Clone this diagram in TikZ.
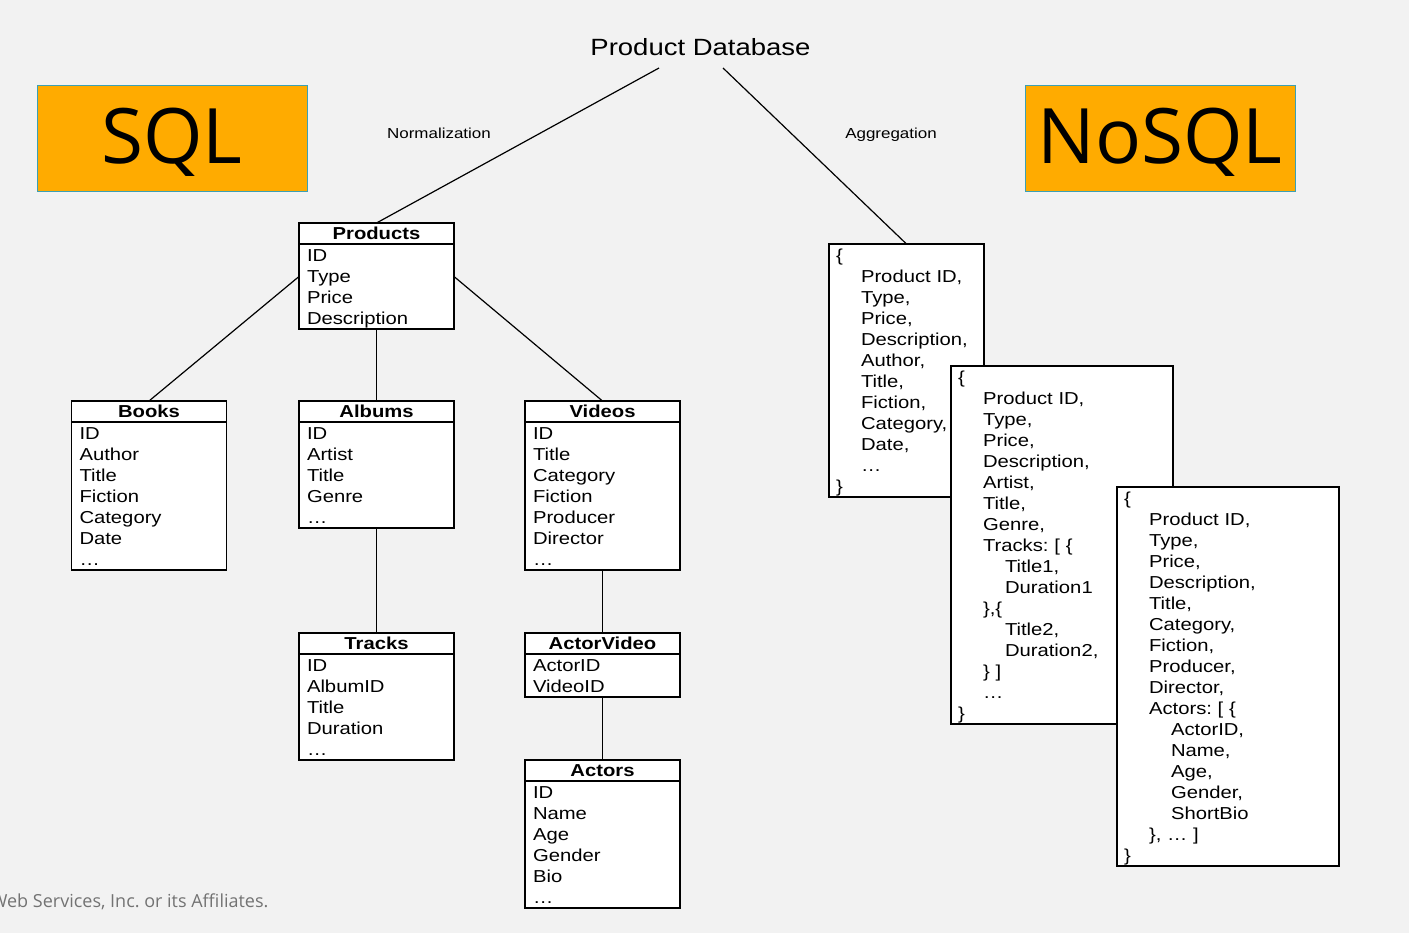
\documentclass[tikz,border=0pt]{standalone}
\usepackage{fontspec}
\setmainfont{Liberation Sans}[FakeStretch=1.17]
\newfontfamily\langfont{Open Sans}
\newfontfamily\footfont{Open Sans}
\usetikzlibrary{positioning}
\definecolor{pageGray}{RGB}{242,242,242}
\definecolor{sqlOrange}{RGB}{255,171,0}
\definecolor{sqlEdge}{RGB}{60,160,180}
\definecolor{footGray}{RGB}{115,115,115}
\newcommand{\rowstrut}{\rule[-4.3pt]{0pt}{21pt}}
\frenchspacing
\tikzset{
  tblhead/.style={draw, fill=white, line width=1.5pt, minimum width=155pt, minimum height=21pt,
    inner sep=0pt, outer sep=0pt, font=\fontsize{17.3}{21}\selectfont\bfseries},
  tblbody/.style={draw, fill=white, line width=1.5pt, text width=139pt, inner xsep=8pt, inner ysep=0.5pt,
    outer sep=0pt, align=left, font=\fontsize{17.3}{21}\selectfont,
    execute at begin node=\rowstrut, execute at end node=\rowstrut},
  docbox/.style={draw, fill=white, line width=1.3pt, anchor=north west, text width=#1, inner xsep=7pt,
    inner ysep=0.5pt, outer sep=0pt, align=left, font=\fontsize{17.3}{21}\selectfont,
    execute at begin node=\rowstrut, execute at end node=\rowstrut},
  langbox/.style={draw=sqlEdge, fill=sqlOrange, line width=0.8pt, minimum width=270pt, minimum height=106pt,
    inner sep=0pt, text depth=5pt, font=\langfont\fontsize{76.5}{80}\selectfont},
  edgelabel/.style={anchor=base, font=\fontsize{14.5}{17}\selectfont},
  link/.style={line width=1.2pt}
}
\newcommand{\ind}{\hspace*{25pt}}
\newcommand{\indd}{\hspace*{47pt}}

\begin{document}
\begin{tikzpicture}[x=1pt, y=-1pt]
  \fill[pageGray] (0,0) rectangle (1409,933);
  \clip (0,0) rectangle (1409,933);

  % title and the two approaches
  \node[font=\fontsize{23.5}{28}\selectfont] (db) at (700.5,47) {Product Database};
  \coordinate (normL) at (659,68);
  \coordinate (aggR) at (723,68);
  \node[langbox] (sql) at (172,138) {SQL};
  \node[langbox] (nosql) at (1160,138) {NoSQL};
  \node[edgelabel] (normlabel) at (439,138.5) {Normalization};
  \node[edgelabel] (agglabel) at (891,138.5) {Aggregation};

  % relational tables
  \node[tblhead] (products) at (376.5,233.5) {Products};
  \node[tblbody, below=0pt of products] (products-f) {ID\\Type\\Price\\Description};

  \node[tblhead] (books) at (149,411.5) {Books};
  \node[tblbody, below=0pt of books] (books-f) {ID\\Author\\Title\\Fiction\\Category\\Date\\…};

  \node[tblhead] (albums) at (376.5,411.5) {Albums};
  \node[tblbody, below=0pt of albums] (albums-f) {ID\\Artist\\Title\\Genre\\…};

  \node[tblhead] (videos) at (602.5,411.5) {Videos};
  \node[tblbody, below=0pt of videos] (videos-f) {ID\\Title\\Category\\Fiction\\Producer\\Director\\…};

  \node[tblhead] (tracks) at (376.5,643.5) {Tracks};
  \node[tblbody, below=0pt of tracks] (tracks-f) {ID\\AlbumID\\Title\\Duration\\…};

  \node[tblhead] (actorvideo) at (602.5,643.5) {ActorVideo};
  \node[tblbody, below=0pt of actorvideo] (actorvideo-f) {ActorID\\VideoID};

  \node[tblhead] (actors) at (602.5,770.5) {Actors};
  \node[tblbody, below=0pt of actors] (actors-f) {ID\\Name\\Age\\Gender\\Bio\\…};

  % documents
  \node[docbox=141pt] (doc1) at (829,244) {\{\\\ind Product ID,\\\ind Type,\\\ind Price,\\\ind Description,\\
    \ind Author,\\\ind Title,\\\ind Fiction,\\\ind Category,\\\ind Date,\\\ind …\\\}};
  \node[docbox=208pt] (doc2) at (951,366) {\{\\\ind Product ID,\\\ind Type,\\\ind Price,\\\ind Description,\\
    \ind Artist,\\\ind Title,\\\ind Genre,\\\ind Tracks: [ \{\\\indd Title1,\\\indd Duration1\\\ind \},\{\\
    \indd Title2,\\\indd Duration2,\\\ind \} ]\\\ind …\\\}};
  \node[docbox=208pt] (doc3) at (1117,487) {\{\\\ind Product ID,\\\ind Type,\\\ind Price,\\\ind Description,\\
    \ind Title,\\\ind Category,\\\ind Fiction,\\\ind Producer,\\\ind Director,\\\ind Actors: [ \{\\
    \indd ActorID,\\\indd Name,\\\indd Age,\\\indd Gender,\\\indd ShortBio\\\ind \}, … ]\\\}};

  % connectors
  \draw[link] (normL) -- (products.north);
  \draw[link] (aggR) -- (doc1.north);
  \draw[link] ([yshift=10pt]products-f.west) -- (books.north);
  \draw[link] (products-f.south) -- (albums.north);
  \draw[link] ([yshift=10pt]products-f.east) -- (videos.north);
  \draw[link] (albums-f.south) -- (tracks.north);
  \draw[link] (videos-f.south) -- (actorvideo.north);
  \draw[link] (actorvideo-f.south) -- (actors.north);

  \node[anchor=base east, text=footGray, font=\footfont\fontsize{18}{21}\selectfont] (footer) at (272,907.5)
    {Web Services, Inc. or its Affiliates.};
\end{tikzpicture}
\end{document}
